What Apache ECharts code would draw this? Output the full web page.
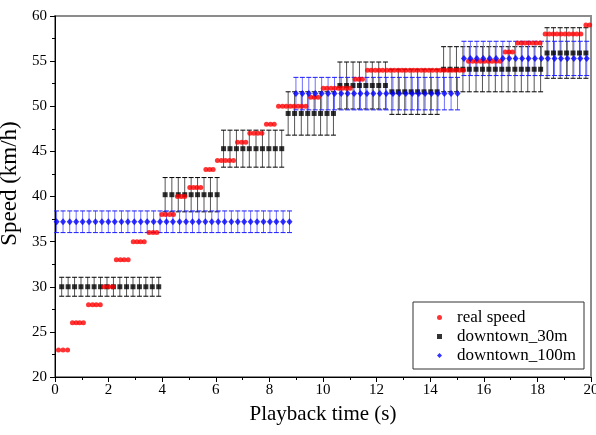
<!DOCTYPE html>
<html>
<head>
<meta charset="utf-8">
<script src="https://cdn.jsdelivr.net/npm/echarts@6/dist/echarts.min.js"></script>
<style>
  html, body { margin: 0; padding: 0; background: #fff; }
  #main { width: 596px; height: 435px; }
</style>
</head>
<body>
<div id="main"></div>
<script>
// real speed (red dots)
const realTime = [
  0.13, 0.30, 0.47,
  0.65, 0.79, 0.92, 1.06,
  1.25, 1.40, 1.54, 1.69,
  1.84, 2.00, 2.15,
  2.29, 2.44, 2.58, 2.73,
  2.92, 3.06, 3.19, 3.33,
  3.51, 3.66, 3.80,
  3.99, 4.13, 4.28, 4.42,
  4.57, 4.71, 4.84,
  5.03, 5.17, 5.30, 5.44,
  5.63, 5.77, 5.90,
  6.06, 6.21, 6.36, 6.51, 6.66,
  6.81, 6.97, 7.12,
  7.27, 7.42, 7.57, 7.72,
  7.89, 8.04, 8.18,
  8.34, 8.49, 8.63, 8.78, 8.92, 9.07, 9.21, 9.36,
  9.54, 9.68, 9.82,
  10.01, 10.15, 10.30, 10.44, 10.58, 10.72, 10.87, 11.01,
  11.20, 11.34, 11.47,
  11.66, 11.80, 11.95, 12.09, 12.23, 12.38, 12.52, 12.66, 12.81, 12.95,
  13.09, 13.24, 13.38, 13.52, 13.67, 13.81, 13.95, 14.09, 14.24, 14.38,
  14.52, 14.67, 14.81, 14.95, 15.10, 15.24,
  15.43, 15.58, 15.72, 15.87, 16.02, 16.17, 16.31, 16.46, 16.61,
  16.80, 16.94, 17.07,
  17.26, 17.40, 17.54, 17.68, 17.82, 17.96, 18.10,
  18.29, 18.44, 18.59, 18.73, 18.88, 19.03, 19.18, 19.33, 19.47, 19.62,
  19.81, 19.95
]
const realSpeed = [
  23, 23, 23,
  26, 26, 26, 26,
  28, 28, 28, 28,
  30, 30, 30,
  33, 33, 33, 33,
  35, 35, 35, 35,
  36, 36, 36,
  38, 38, 38, 38,
  40, 40, 40,
  41, 41, 41, 41,
  43, 43, 43,
  44, 44, 44, 44, 44,
  46, 46, 46,
  47, 47, 47, 47,
  48, 48, 48,
  50, 50, 50, 50, 50, 50, 50, 50,
  51, 51, 51,
  52, 52, 52, 52, 52, 52, 52, 52,
  53, 53, 53,
  54, 54, 54, 54, 54, 54, 54, 54, 54, 54,
  54, 54, 54, 54, 54, 54, 54, 54, 54, 54,
  54, 54, 54, 54, 54, 54,
  55, 55, 55, 55, 55, 55, 55, 55, 55,
  56, 56, 56,
  57, 57, 57, 57, 57, 57, 57,
  58, 58, 58, 58, 58, 58, 58, 58, 58, 58,
  59, 59
]

// downtown_30m (black squares, error bars)
const time30 = [
  0.25, 0.49, 0.73, 0.97, 1.22, 1.46, 1.70, 1.94, 2.18, 2.42,
  2.67, 2.91, 3.15, 3.39, 3.63, 3.87, 4.11, 4.36, 4.60, 4.84,
  5.08, 5.32, 5.56, 5.80, 6.05, 6.29, 6.53, 6.77, 7.01, 7.25,
  7.50, 7.74, 7.98, 8.22, 8.46, 8.70, 8.94, 9.19, 9.43, 9.67,
  9.91, 10.15, 10.39, 10.63, 10.88, 11.12, 11.36, 11.60, 11.84, 12.08,
  12.33, 12.57, 12.81, 13.05, 13.29, 13.53, 13.77, 14.02, 14.26, 14.50,
  14.74, 14.98, 15.22, 15.46, 15.71, 15.95, 16.19, 16.43, 16.67, 16.91,
  17.16, 17.40, 17.64, 17.88, 18.12, 18.36, 18.60, 18.85, 19.09, 19.33,
  19.57, 19.81
]
const speed30 = [
  30, 30, 30, 30, 30, 30, 30, 30, 30, 30, 30, 30, 30, 30, 30, 30,
  40.2, 40.2, 40.2, 40.2, 40.2, 40.2, 40.2, 40.2, 40.2,
  45.3, 45.3, 45.3, 45.3, 45.3, 45.3, 45.3, 45.3, 45.3, 45.3,
  49.2, 49.2, 49.2, 49.2, 49.2, 49.2, 49.2, 49.2,
  52.3, 52.3, 52.3, 52.3, 52.3, 52.3, 52.3, 52.3,
  51.6, 51.6, 51.6, 51.6, 51.6, 51.6, 51.6, 51.6,
  54.1, 54.1, 54.1, 54.1, 54.1, 54.1, 54.1, 54.1, 54.1, 54.1, 54.1, 54.1, 54.1, 54.1, 54.1, 54.1,
  55.9, 55.9, 55.9, 55.9, 55.9, 55.9, 55.9
]
const err30 = [
  1.05, 1.05, 1.05, 1.05, 1.05, 1.05, 1.05, 1.05, 1.05, 1.05, 1.05, 1.05, 1.05, 1.05, 1.05, 1.05,
  1.9, 1.9, 1.9, 1.9, 1.9, 1.9, 1.9, 1.9, 1.9,
  2.05, 2.05, 2.05, 2.05, 2.05, 2.05, 2.05, 2.05, 2.05, 2.05,
  2.4, 2.4, 2.4, 2.4, 2.4, 2.4, 2.4, 2.4,
  2.6, 2.6, 2.6, 2.6, 2.6, 2.6, 2.6, 2.6,
  2.5, 2.5, 2.5, 2.5, 2.5, 2.5, 2.5, 2.5,
  2.5, 2.5, 2.5, 2.5, 2.5, 2.5, 2.5, 2.5, 2.5, 2.5, 2.5, 2.5, 2.5, 2.5, 2.5, 2.5,
  2.8, 2.8, 2.8, 2.8, 2.8, 2.8, 2.8
]

// downtown_100m (blue diamonds, error bars)
const time100 = [
  0.06, 0.30, 0.55, 0.79, 1.03, 1.27, 1.51, 1.75, 1.99, 2.23,
  2.48, 2.72, 2.96, 3.20, 3.44, 3.68, 3.92, 4.16, 4.40, 4.65,
  4.89, 5.13, 5.37, 5.61, 5.85, 6.09, 6.33, 6.58, 6.82, 7.06,
  7.30, 7.54, 7.78, 8.02, 8.26, 8.51, 8.75, 8.99, 9.23, 9.47,
  9.71, 9.95, 10.19, 10.43, 10.68, 10.92, 11.16, 11.40, 11.64, 11.88,
  12.12, 12.36, 12.61, 12.85, 13.09, 13.33, 13.57, 13.81, 14.05, 14.29,
  14.53, 14.78, 15.02, 15.26, 15.50, 15.74, 15.98, 16.22, 16.46, 16.71,
  16.95, 17.19, 17.43, 17.67, 17.91, 18.15, 18.39, 18.64, 18.88, 19.12,
  19.36, 19.60, 19.84
]
const speed100 = [
  37.2, 37.2, 37.2, 37.2, 37.2, 37.2, 37.2, 37.2, 37.2, 37.2,
  37.2, 37.2, 37.2, 37.2, 37.2, 37.2, 37.2, 37.2, 37.2, 37.2,
  37.2, 37.2, 37.2, 37.2, 37.2, 37.2, 37.2, 37.2, 37.2, 37.2,
  37.2, 37.2, 37.2, 37.2, 37.2, 37.2, 37.2,
  51.4, 51.4, 51.4, 51.4, 51.4, 51.4, 51.4, 51.4, 51.4, 51.4,
  51.4, 51.4, 51.4, 51.4, 51.4, 51.4, 51.4, 51.4, 51.4, 51.4,
  51.4, 51.4, 51.4, 51.4, 51.4, 51.4,
  55.3, 55.3, 55.3, 55.3, 55.3, 55.3, 55.3, 55.3, 55.3, 55.3,
  55.3, 55.3, 55.3, 55.3, 55.3, 55.3, 55.3, 55.3, 55.3, 55.3
]
const err100 = [
  1.2, 1.2, 1.2, 1.2, 1.2, 1.2, 1.2, 1.2, 1.2, 1.2,
  1.2, 1.2, 1.2, 1.2, 1.2, 1.2, 1.2, 1.2, 1.2, 1.2,
  1.2, 1.2, 1.2, 1.2, 1.2, 1.2, 1.2, 1.2, 1.2, 1.2,
  1.2, 1.2, 1.2, 1.2, 1.2, 1.2, 1.2,
  1.8, 1.8, 1.8, 1.8, 1.8, 1.8, 1.8, 1.8, 1.8, 1.8,
  1.8, 1.8, 1.8, 1.8, 1.8, 1.8, 1.8, 1.8, 1.8, 1.8,
  1.8, 1.8, 1.8, 1.8, 1.8, 1.8,
  1.9, 1.9, 1.9, 1.9, 1.9, 1.9, 1.9, 1.9, 1.9, 1.9,
  1.9, 1.9, 1.9, 1.9, 1.9, 1.9, 1.9, 1.9, 1.9, 1.9
]

const xTicks = [0, 20, 2]   // min, max, interval
const yTicks = [20, 60, 5]

const font = 'Liberation Serif'

const pairs = (xs, ys) => xs.map((x, i) => [x, ys[i]])
const bars = (xs, ys, es) => xs.map((x, i) => [x, ys[i] - es[i], ys[i] + es[i]])

// error bar drawing
function errorBar(lineColor, capColor) {
  return function (params, api) {
    const top = api.coord([api.value(0), api.value(2)])
    const bot = api.coord([api.value(0), api.value(1)])
    const w = 2.5
    return {
      type: 'group',
      children: [
        { type: 'line', shape: { x1: top[0], y1: top[1], x2: bot[0], y2: bot[1] }, style: { stroke: lineColor, lineWidth: 1 } },
        { type: 'line', shape: { x1: top[0] - w, y1: top[1], x2: top[0] + w, y2: top[1] }, style: { stroke: capColor, lineWidth: 1 } },
        { type: 'line', shape: { x1: bot[0] - w, y1: bot[1], x2: bot[0] + w, y2: bot[1] }, style: { stroke: capColor, lineWidth: 1 } },
      ],
    }
  }
}

var myChart = echarts.init(document.getElementById('main'))
var option = {
  animation: false,
  backgroundColor: '#fff',
  grid: {
    left: 55,
    right: 5,
    top: 16,
    bottom: 58,
    outerBoundsMode: 'none',
    containLabel: false,
    show: true,
    borderColor: '#8c8c8c',
    borderWidth: 2,
  },
  legend: {
    orient: 'vertical',
    left: 413,
    top: 302,
    padding: [7, 8, 5, 24],
    itemWidth: 5,
    itemHeight: 5,
    itemGap: 2,
    borderColor: '#333',
    borderWidth: 1,
    backgroundColor: '#fff',
    data: [
      { name: 'real speed', icon: 'circle', itemStyle: { color: '#ff0000' } },
      { name: 'downtown_30m', icon: 'rect', itemStyle: { color: '#000' } },
      { name: 'downtown_100m', icon: 'diamond', itemStyle: { color: '#0000ff' } },
    ],
    textStyle: { fontFamily: font, fontSize: 17, color: '#000', padding: [0, 0, 0, 10] },
  },
  xAxis: {
    type: 'value',
    min: xTicks[0],
    max: xTicks[1],
    interval: xTicks[2],
    name: 'Playback time (s)',
    nameLocation: 'middle',
    nameGap: 27,
    nameTextStyle: { fontFamily: font, fontSize: 21, color: '#000' },
    axisLine: { lineStyle: { color: '#000', width: 1 } },
    axisTick: { inside: false, length: 5, lineStyle: { color: '#000' } },
    minorTick: { show: true, splitNumber: 2, length: 3, lineStyle: { color: '#000' } },
    axisLabel: { fontFamily: font, fontSize: 15, color: '#000', margin: 6 },
    splitLine: { show: false },
  },
  yAxis: {
    type: 'value',
    min: yTicks[0],
    max: yTicks[1],
    interval: yTicks[2],
    name: 'Speed (km/h)',
    nameLocation: 'middle',
    nameGap: 30,
    nameTextStyle: { fontFamily: font, fontSize: 23, color: '#000', padding: [0, 0, 0, 26] },
    axisLine: { lineStyle: { color: '#000', width: 1 } },
    axisTick: { inside: false, length: 5, lineStyle: { color: '#000' } },
    minorTick: { show: true, splitNumber: 2, length: 3, lineStyle: { color: '#000' } },
    axisLabel: { fontFamily: font, fontSize: 15, color: '#000', margin: 8 },
    splitLine: { show: false },
  },
  series: [
    {
      name: 'err30',
      type: 'custom',
      renderItem: errorBar('#555', '#000'),
      encode: { x: 0, y: [1, 2] },
      data: bars(time30, speed30, err30),
      z: 1,
    },
    {
      name: 'err100',
      type: 'custom',
      renderItem: errorBar('#6f6fff', '#1a1aff'),
      encode: { x: 0, y: [1, 2] },
      data: bars(time100, speed100, err100),
      z: 2,
    },
    {
      name: 'downtown_30m',
      type: 'scatter',
      symbol: 'rect',
      symbolSize: 5,
      itemStyle: { color: '#000' },
      data: pairs(time30, speed30),
      z: 3,
    },
    {
      name: 'real speed',
      type: 'scatter',
      symbol: 'circle',
      symbolSize: 5,
      itemStyle: { color: '#ff0000' },
      data: pairs(realTime, realSpeed),
      z: 4,
    },
    {
      name: 'downtown_100m',
      type: 'scatter',
      symbol: 'diamond',
      symbolSize: [6, 7],
      itemStyle: { color: '#0000ff' },
      data: pairs(time100, speed100),
      z: 5,
    },
  ],
}
option && myChart.setOption(option)
</script>
</body>
</html>
